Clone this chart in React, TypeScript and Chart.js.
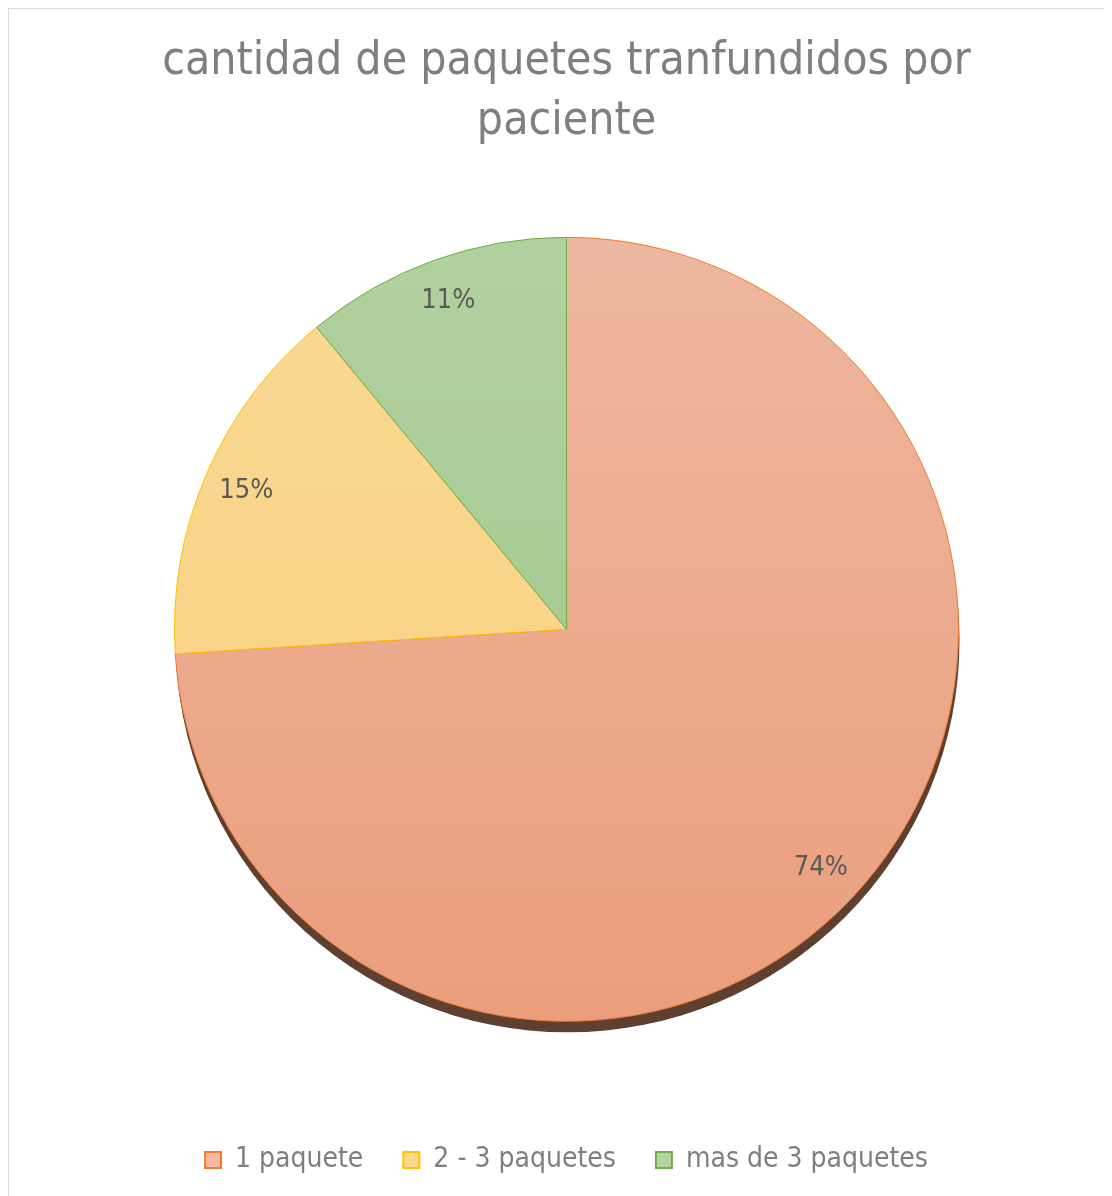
import React, { useEffect, useRef } from "react";
import { Chart, registerables } from "chart.js";

Chart.register(...registerables);

const titleLines = ["cantidad de paquetes tranfundidos por", "paciente"];
const categories = ["1 paquete", "2 - 3 paquetes", "mas de 3 paquetes"];
const values = [74, 15, 11];
const fillTop = ["#EEBAA3", "#FADA97", "#B3D2A2"];
const fillBottom = ["#EA9B78", "#F8CF7A", "#9DC585"];
const legendFill = ["#F4B9A0", "#FEDA90", "#B4D5A0"];
const borderColors = ["#ED7D31", "#FFC000", "#70AD47"];

const FONT = "'Liberation Sans Narrow', 'DejaVu Sans Condensed', 'Liberation Sans', sans-serif";

const shadowPlugin = {
  id: "pieShadow",
  beforeDatasetsDraw(chart: any) {
    const meta = chart.getDatasetMeta(0);
    const arc = meta.data[0];
    if (!arc) return;
    const { x, y, outerRadius } = arc.getProps(["x", "y", "outerRadius"], true);
    const ctx = chart.ctx;
    ctx.save();
    ctx.beginPath();
    ctx.arc(x + 1, y + 11, outerRadius, 0, Math.PI * 2);
    ctx.fillStyle = "#5f4030";
    ctx.fill();
    ctx.restore();
  },
};

const labelPlugin = {
  id: "pctLabels",
  afterDatasetsDraw(chart: any) {
    const meta = chart.getDatasetMeta(0);
    const data = chart.data.datasets[0].data as number[];
    const total = data.reduce((a, b) => a + b, 0);
    const ctx = chart.ctx;
    ctx.save();
    ctx.font = `27px ${FONT}`;
    ctx.fillStyle = "#595959";
    ctx.textAlign = "center";
    ctx.textBaseline = "middle";
    meta.data.forEach((arc: any, i: number) => {
      const { x, y, startAngle, endAngle, outerRadius } = arc.getProps(
        ["x", "y", "startAngle", "endAngle", "outerRadius"],
        true
      );
      const mid = (startAngle + endAngle) / 2;
      const r = outerRadius * 0.89;
      const pct = Math.round((data[i] / total) * 100) + "%";
      ctx.fillText(pct, x + Math.cos(mid) * r, y + Math.sin(mid) * r);
    });
    ctx.restore();
  },
};

export default function App() {
  const ref = useRef<HTMLCanvasElement | null>(null);
  useEffect(() => {
    if (!ref.current) return;
    const chart = new Chart(ref.current, {
      type: "pie",
      data: {
        labels: categories,
        datasets: [
          {
            data: values,
            backgroundColor: (c: any) => {
              const area = c.chart.chartArea;
              const i = c.dataIndex ?? 0;
              if (!area) return fillTop[i];
              const g = c.chart.ctx.createLinearGradient(0, area.top, 0, area.bottom);
              g.addColorStop(0, fillTop[i]);
              g.addColorStop(1, fillBottom[i]);
              return g;
            },
            borderColor: borderColors,
            borderWidth: 1,
            radius: 392,
          } as any,
        ],
      },
      options: {
        responsive: false,
        animation: false,
        devicePixelRatio: 1,
        layout: { padding: { left: 12, right: 0, top: 0, bottom: 12 } },
        plugins: {
          tooltip: { enabled: false },
          title: {
            display: true,
            text: titleLines,
            color: "#7f7f7f",
            font: { family: FONT, size: 46, weight: "normal", lineHeight: 1.3 },
            padding: { top: 23, bottom: 1 },
          },
          legend: {
            display: true,
            position: "bottom",
            labels: {
              color: "#7f7f7f",
              font: { family: FONT, size: 28 },
              boxWidth: 16,
              boxHeight: 16,
              padding: 40,
              generateLabels: () =>
                categories.map((t, i) => ({
                  text: t,
                  fillStyle: legendFill[i],
                  strokeStyle: borderColors[i],
                  lineWidth: 2,
                  hidden: false,
                  index: i,
                  datasetIndex: 0,
                  fontColor: "#7f7f7f",
                })),
            },
          },
        },
      },
      plugins: [shadowPlugin, labelPlugin],
    });
    return () => chart.destroy();
  }, []);

  return (
    <div
      style={{
        width: 1104,
        height: 1188,
        borderTop: "1px solid #d9d9d9",
        borderLeft: "1px solid #d9d9d9",
        boxSizing: "border-box",
        overflow: "hidden",
        background: "#fff",
      }}
    >
      <canvas ref={ref} width={1103} height={1187} style={{ display: "block" }} />
    </div>
  );
}
